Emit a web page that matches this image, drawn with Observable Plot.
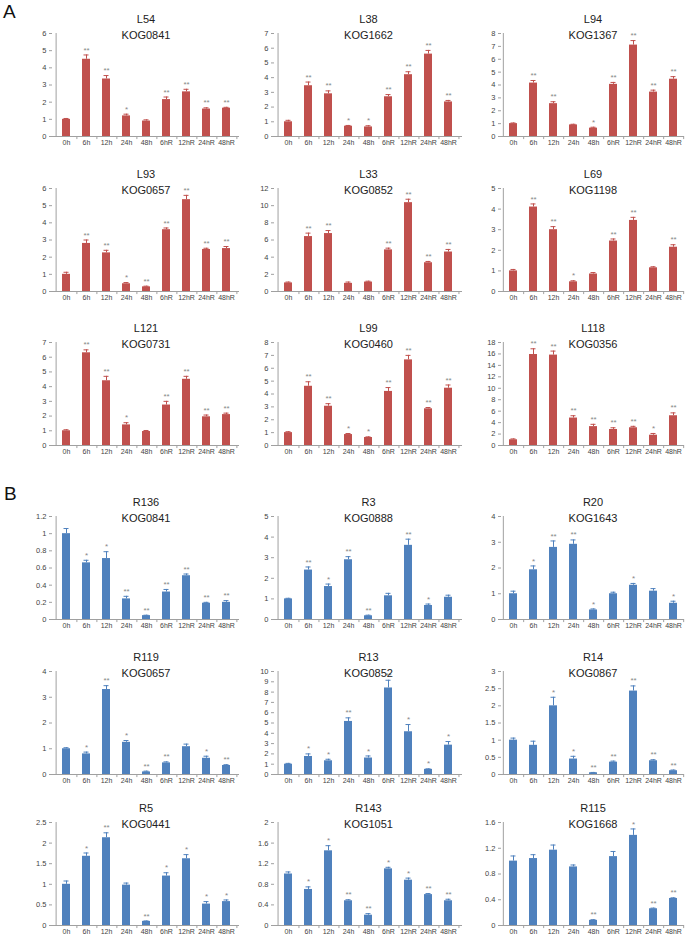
<!DOCTYPE html>
<html><head><meta charset="utf-8">
<script src="https://cdn.jsdelivr.net/npm/d3@7"></script>
<script src="https://cdn.jsdelivr.net/npm/@observablehq/plot@0.6"></script>
<style>
body{margin:0;background:#fff;}
#wrap{position:relative;width:685px;height:939px;overflow:hidden;background:#fff;font-family:"Liberation Sans",Arial,sans-serif;}
.letter{position:absolute;font-size:19px;color:#111;font-family:"Liberation Sans",Arial,sans-serif;line-height:1;}
#wrap svg{position:absolute;overflow:visible;}
</style></head><body>
<div id="wrap"><div class="letter" style="left:3px;top:2px">A</div><div class="letter" style="left:4px;top:484px">B</div></div>
<script>
const times = ["0h","6h","12h","24h","48h","6hR","12hR","24hR","48hR"];

const L54 = [1.0,4.5,3.35,1.2,0.9,2.15,2.6,1.6,1.65];
const L54_err = [0.05,0.25,0.2,0.1,0.07,0.15,0.15,0.07,0.05];
const L54_sig = ["","**","**","*","","**","**","**","**"];
const L38 = [1.0,3.45,2.9,0.7,0.65,2.7,4.2,5.6,2.35];
const L38_err = [0.1,0.25,0.2,0.05,0.08,0.15,0.2,0.25,0.1];
const L38_sig = ["","**","**","*","*","**","**","**","**"];
const L94 = [1.0,4.15,2.55,0.9,0.65,4.05,7.1,3.45,4.45];
const L94_err = [0.05,0.2,0.15,0.05,0.07,0.15,0.35,0.15,0.2];
const L94_sig = ["","**","**","","*","**","**","**","**"];
const L93 = [1.0,2.8,2.25,0.45,0.27,3.6,5.35,2.45,2.5];
const L93_err = [0.12,0.2,0.15,0.07,0.04,0.1,0.25,0.07,0.12];
const L93_sig = ["","**","**","*","**","**","**","**","**"];
const L33 = [1.0,6.4,6.75,0.95,1.1,4.85,10.35,3.35,4.6];
const L33_err = [0.1,0.4,0.35,0.15,0.1,0.2,0.4,0.15,0.3];
const L33_sig = ["","**","**","","","**","**","**","**"];
const L69 = [1.0,4.1,3.0,0.47,0.85,2.45,3.45,1.15,2.15];
const L69_err = [0.07,0.15,0.15,0.05,0.07,0.1,0.15,0.05,0.12];
const L69_sig = ["","**","**","*","","**","**","","**"];
const L121 = [1.0,6.3,4.4,1.4,0.95,2.75,4.5,1.95,2.1];
const L121_err = [0.07,0.2,0.3,0.15,0.07,0.25,0.2,0.12,0.1];
const L121_sig = ["","**","**","*","","**","**","**","**"];
const L99 = [1.0,4.6,3.05,0.85,0.62,4.2,6.65,2.85,4.45];
const L99_err = [0.07,0.35,0.2,0.08,0.05,0.3,0.35,0.1,0.25];
const L99_sig = ["","**","**","*","*","**","**","**","**"];
const L118 = [1.0,15.9,15.8,4.8,3.3,2.8,3.1,1.8,5.2];
const L118_err = [0.15,1.0,0.7,0.4,0.4,0.3,0.25,0.3,0.5];
const L118_sig = ["","**","**","**","**","**","**","*","**"];

const R136 = [1.0,0.66,0.71,0.24,0.045,0.32,0.51,0.19,0.2];
const R136_err = [0.06,0.03,0.08,0.03,0.005,0.03,0.02,0.01,0.02];
const R136_sig = ["","*","*","**","**","**","**","**","**"];
const R3 = [1.0,2.4,1.6,2.9,0.18,1.15,3.6,0.68,1.08];
const R3_err = [0.03,0.15,0.12,0.15,0.03,0.12,0.3,0.07,0.1];
const R3_sig = ["","**","*","**","**","","**","*",""];
const R20 = [1.0,1.93,2.8,2.92,0.37,1.0,1.33,1.1,0.63];
const R20_err = [0.1,0.15,0.25,0.17,0.04,0.06,0.07,0.1,0.08];
const R20_sig = ["","*","**","**","*","","*","","*"];
const R119 = [1.0,0.8,3.3,1.25,0.1,0.45,1.08,0.63,0.35];
const R119_err = [0.04,0.07,0.15,0.07,0.03,0.04,0.1,0.08,0.03];
const R119_sig = ["","*","**","*","**","**","","*","**"];
const R13 = [1.0,1.75,1.33,5.15,1.6,8.4,4.15,0.5,2.85];
const R13_err = [0.08,0.25,0.15,0.35,0.2,0.75,0.7,0.05,0.35];
const R13_sig = ["","*","*","**","*","**","*","*","*"];
const R14 = [1.0,0.85,2.0,0.45,0.05,0.36,2.43,0.4,0.11];
const R14_err = [0.06,0.12,0.25,0.08,0.01,0.03,0.15,0.03,0.02];
const R14_sig = ["","","*","*","**","**","**","**","**"];
const R5 = [1.0,1.68,2.13,0.98,0.1,1.2,1.62,0.52,0.58];
const R5_err = [0.08,0.08,0.12,0.05,0.01,0.08,0.1,0.06,0.04];
const R5_sig = ["","*","**","","**","*","*","*","*"];
const R143 = [1.0,0.7,1.45,0.48,0.2,1.1,0.88,0.6,0.48];
const R143_err = [0.04,0.05,0.1,0.02,0.03,0.03,0.04,0.02,0.03];
const R143_sig = ["","*","*","**","**","*","*","**","**"];
const R115 = [1.0,1.04,1.17,0.91,0.08,1.07,1.4,0.26,0.42];
const R115_err = [0.08,0.06,0.08,0.03,0.01,0.08,0.1,0.01,0.01];
const R115_sig = ["","","","","**","","*","**","**"];

// panel definitions: name, KOG, values, errors, significance, y max, y tick step
const panels = [
  ["L54","KOG0841",L54,L54_err,L54_sig,6,1],
  ["L38","KOG1662",L38,L38_err,L38_sig,7,1],
  ["L94","KOG1367",L94,L94_err,L94_sig,8,1],
  ["L93","KOG0657",L93,L93_err,L93_sig,6,1],
  ["L33","KOG0852",L33,L33_err,L33_sig,12,2],
  ["L69","KOG1198",L69,L69_err,L69_sig,5,1],
  ["L121","KOG0731",L121,L121_err,L121_sig,7,1],
  ["L99","KOG0460",L99,L99_err,L99_sig,8,1],
  ["L118","KOG0356",L118,L118_err,L118_sig,18,2],
  ["R136","KOG0841",R136,R136_err,R136_sig,1.2,0.2],
  ["R3","KOG0888",R3,R3_err,R3_sig,5,1],
  ["R20","KOG1643",R20,R20_err,R20_sig,4,1],
  ["R119","KOG0657",R119,R119_err,R119_sig,4,1],
  ["R13","KOG0852",R13,R13_err,R13_sig,10,1],
  ["R14","KOG0867",R14,R14_err,R14_sig,3,0.5],
  ["R5","KOG0441",R5,R5_err,R5_sig,2.5,0.5],
  ["R143","KOG1051",R143,R143_err,R143_sig,2,0.4],
  ["R115","KOG1668",R115,R115_err,R115_sig,1.6,0.4]
];

const rowTops = [33,188,342,516,671,822];
const colAxis = [52,274,501];
const colWidth = [187,188,183];
const mTop = 30, mLeft = 40, plotH = 103, mBottom = 20;
const wrap = document.getElementById("wrap");

panels.forEach((p, i) => {
  const [name, kog, vals, errs, sigs, ymax, step] = p;
  const row = Math.floor(i/3), col = i % 3;
  const color = i < 9 ? "#C0504D" : "#4F81BD";
  const data = times.map((t, j) => ({t, v: vals[j], e: errs[j], s: sigs[j]}));
  const nT = Math.round(ymax/step);
  const ticks = d3.range(0, nT+1).map(k => +(k*step).toFixed(2));
  const w = colWidth[col];
  const bandStep = w/9;
  const chart = Plot.plot({
    width: mLeft + w + 2,
    height: mTop + plotH + mBottom,
    marginLeft: mLeft, marginRight: 2, marginTop: mTop, marginBottom: mBottom,
    x: {domain: times, paddingInner: 0.6, paddingOuter: 0.3, label: null},
    y: {domain: [0, ymax], label: null},
    style: {fontFamily: "'Liberation Sans Narrow','Liberation Sans',Arial,sans-serif", fontSize: "7px", color: "#444", background: "transparent"},
    marks: [
      Plot.barY(data, {x: "t", y: "v", fill: color}),
      Plot.ruleX(data, {x: "t", y1: "v", y2: d => d.v + d.e, stroke: color, strokeWidth: 1}),
      Plot.tickY(data, {x: "t", y: d => d.v + d.e, stroke: color, strokeWidth: 1, insetLeft: 1.5, insetRight: 1.5}),
      Plot.text(data, {x: "t", y: d => d.v + d.e, text: "s", dy: -5, fill: "#888", fontSize: 8, fontFamily: "'Liberation Sans',Arial,sans-serif", style: "letter-spacing:1.5px"}),
      Plot.ruleY([0], {stroke: "#a0a0a0"}),
      Plot.ruleX(times, {x: d => d, dx: bandStep/2, y1: 0, y2: -ymax*0.03, stroke: "#a0a0a0"}),
      Plot.ruleX(["0h"], {x: d => d, dx: -bandStep/2, y1: 0, y2: ymax, stroke: "#a0a0a0"}),
      Plot.axisY({ticks, tickFormat: d3.format("~g"), tickSize: 3, tickPadding: 3, stroke: "#a0a0a0", fontSize: 7.5, label: null}),
      Plot.axisX({tickSize: 0, tickPadding: 4, label: null}),
      Plot.text([name], {frameAnchor: "top", dy: -18, text: d => d, fontSize: 11, fill: "#222", fontFamily: "'Liberation Sans',Arial,sans-serif"}),
      Plot.text([kog], {frameAnchor: "top", dy: -2, text: d => d, fontSize: 11, fill: "#222", fontFamily: "'Liberation Sans',Arial,sans-serif"})
    ]
  });
  chart.style.left = (colAxis[col] - mLeft) + "px";
  chart.style.top = (rowTops[row] - mTop) + "px";
  wrap.appendChild(chart);
});
</script>
</body></html>
